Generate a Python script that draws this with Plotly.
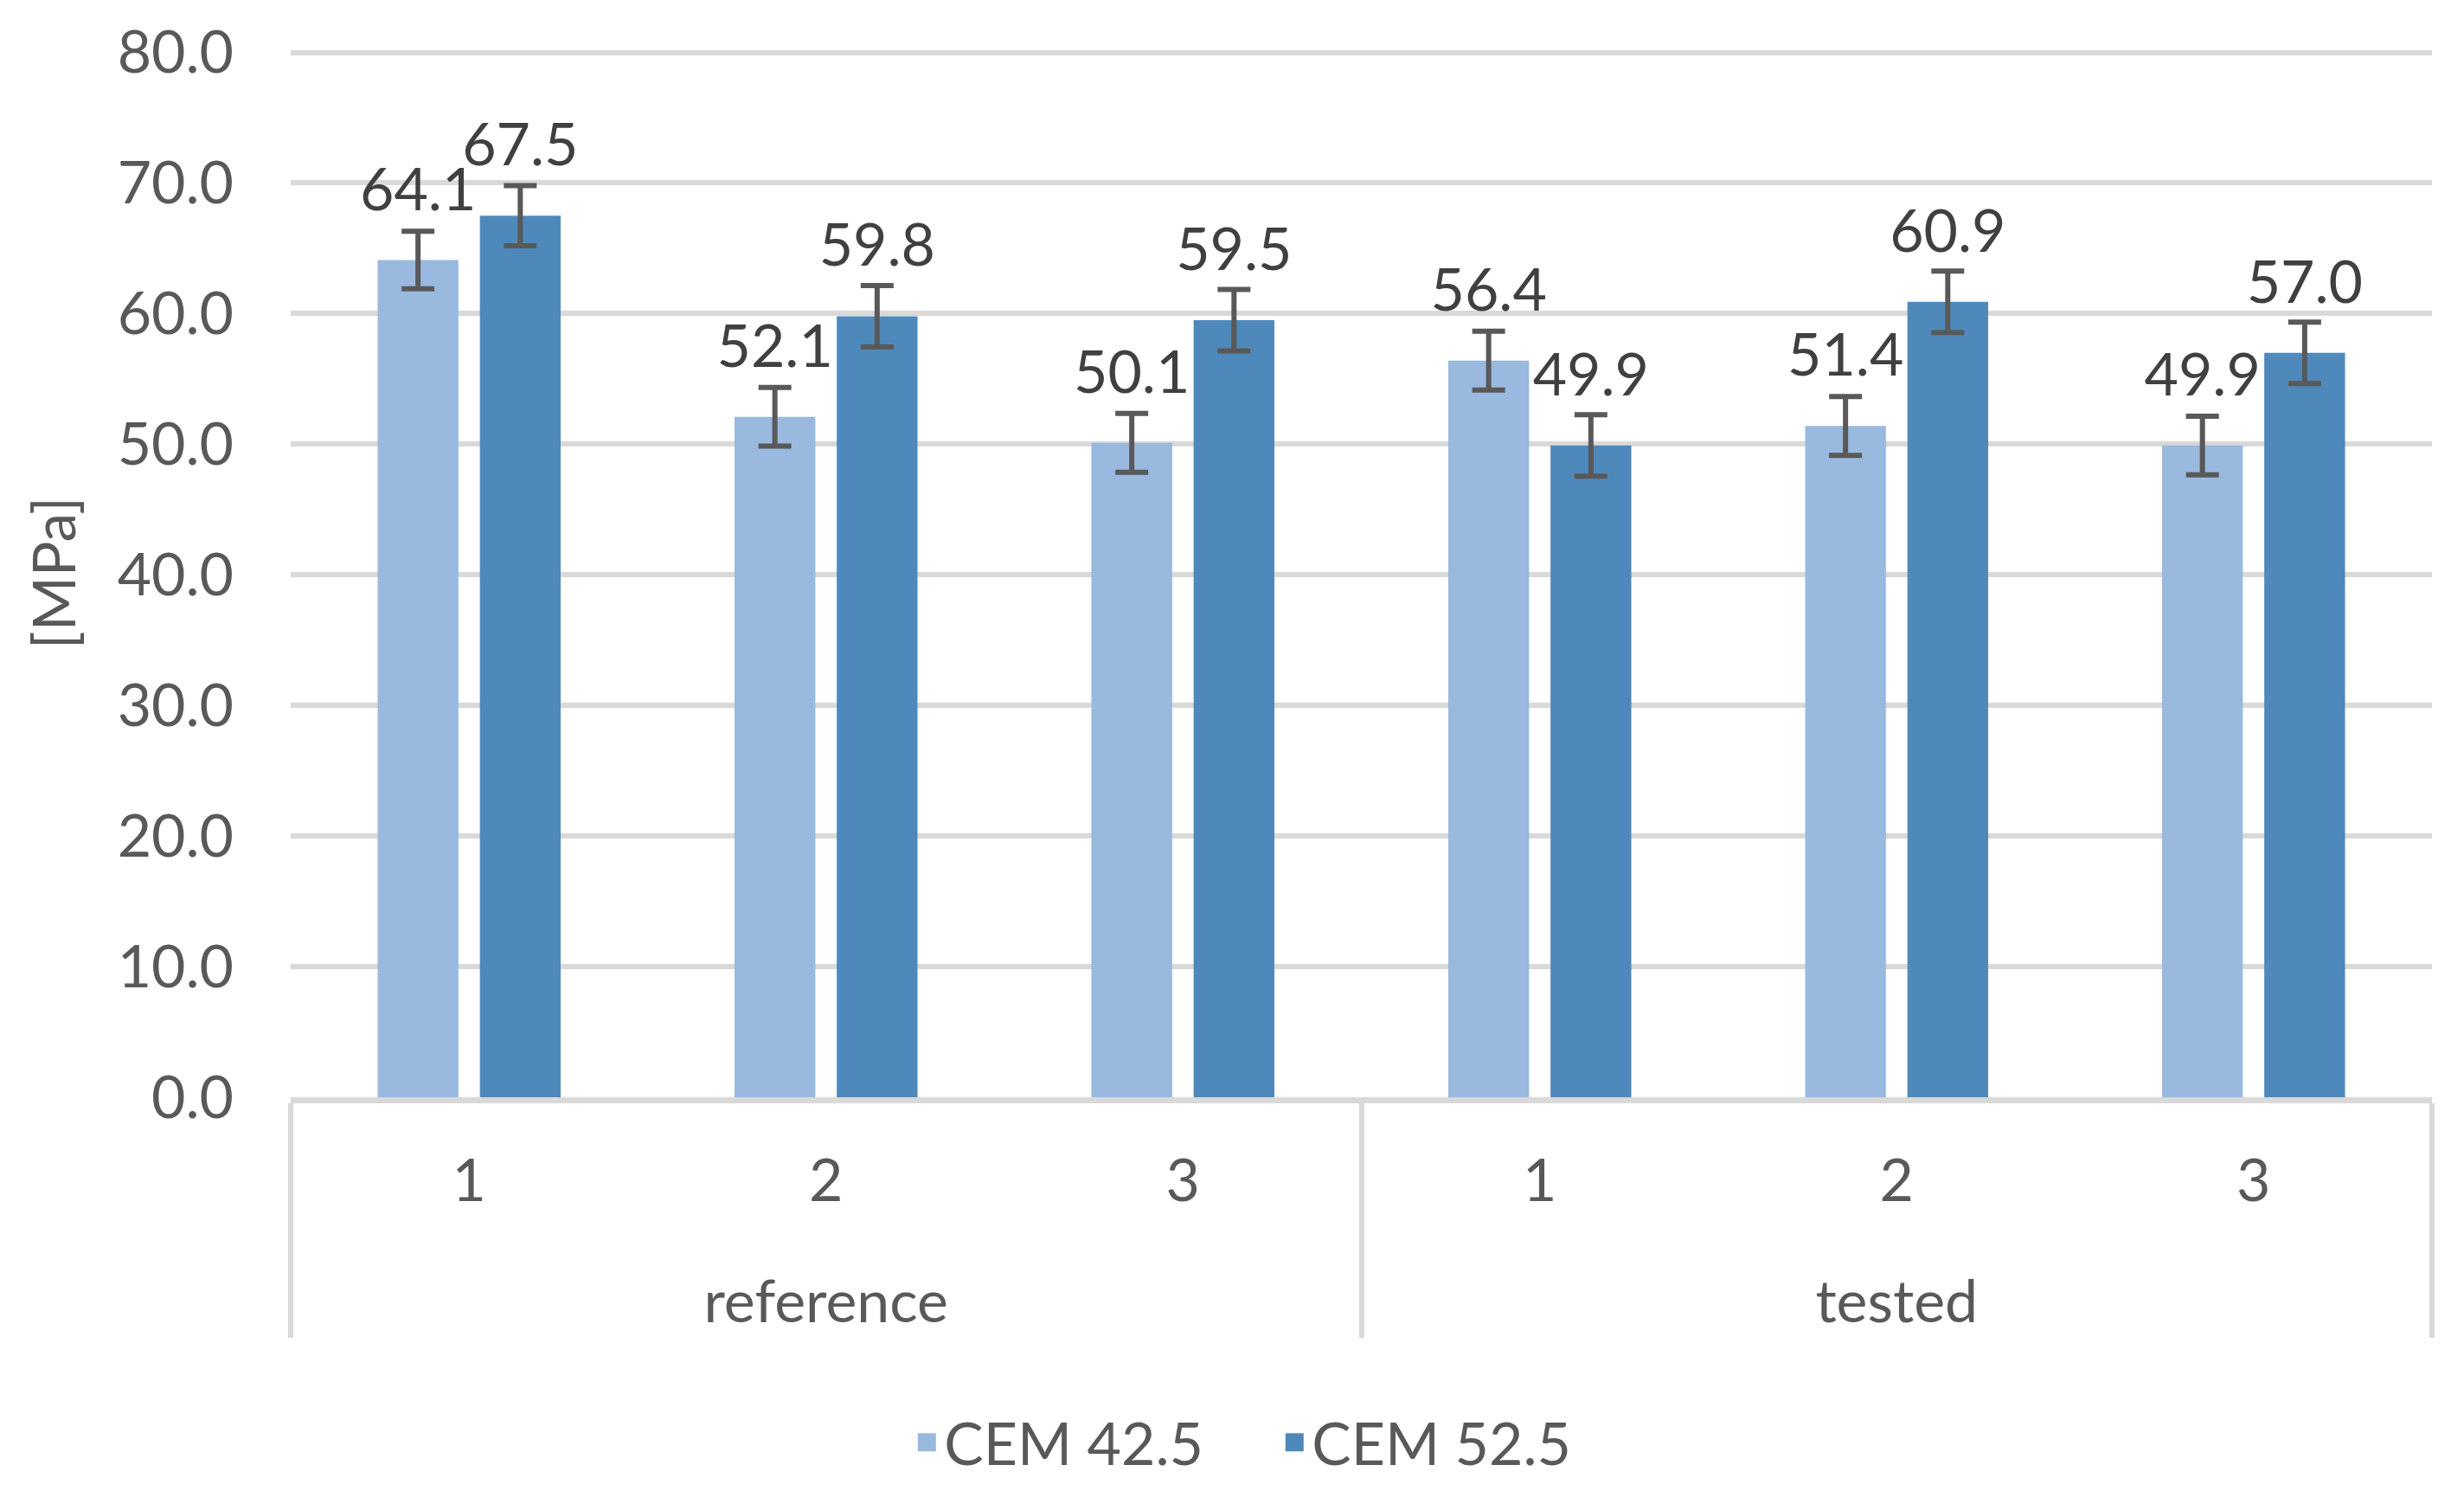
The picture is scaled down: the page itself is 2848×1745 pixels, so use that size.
import plotly.graph_objects as go

# ---- data ----
groups = ["reference", "reference", "reference", "tested", "tested", "tested"]
samples = ["1", "2", "3", "1", "2", "3"]
series_names = ["CEM 42.5", "CEM 52.5"]
cem425 = [64.1, 52.1, 50.1, 56.4, 51.4, 49.9]
cem525 = [67.5, 59.8, 59.5, 49.9, 60.9, 57.0]
err425 = [2.2, 2.25, 2.25, 2.25, 2.25, 2.25]
err525 = [2.3, 2.35, 2.35, 2.35, 2.35, 2.35]
y_ticks = [0, 10, 20, 30, 40, 50, 60, 70, 80]

# ---- style ----
FONT = "Lato, 'Open Sans', sans-serif"
FS = 68
AXIS_TXT = "#595959"
LABEL_TXT = "#404040"
GRID = "#D9D9D9"
colors = ["#99B9DF", "#4F89BB"]

fig = go.Figure()
values = [cem425, cem525]
errors = [err425, err525]
# outer level label gets a leading line break to sit lower, as in the reference
x = [["<br>" + g for g in groups], samples]

for i in range(2):
    fig.add_trace(go.Bar(
        x=x, y=values[i], name=series_names[i],
        marker=dict(color=colors[i], line=dict(width=0)),
        error_y=dict(type="data", array=errors[i], visible=True,
                     color="#595959", thickness=6, width=19),
        offsetgroup=str(i), showlegend=False, hoverinfo="skip",
    ))

for i in range(2):
    fig.add_trace(go.Scatter(
        x=x, y=values[i], mode="markers+text",
        text=[f"{v:.1f}" for v in values[i]],
        textposition="top center",
        textfont=dict(family=FONT, size=FS, color=LABEL_TXT),
        marker=dict(size=64, opacity=0, color=colors[i]),
        offsetgroup=str(i), showlegend=False, hoverinfo="skip",
    ))

# legend entries
for i in range(2):
    fig.add_trace(go.Scatter(
        x=[[x[0][0]], [x[1][0]]], y=[None], mode="markers",
        name=series_names[i],
        marker=dict(symbol="square", size=16, color=colors[i],
                    line=dict(width=5, color=colors[i])),
        offsetgroup=str(i), showlegend=True, hoverinfo="skip",
    ))

W, H = 2840, 1737
fig.update_layout(
    width=W, height=H,
    paper_bgcolor="white", plot_bgcolor="white",
    margin=dict(l=328, r=37, t=47.5, b=477, autoexpand=False),
    barmode="group", bargap=0.427, bargroupgap=0.21,
    scattermode="group", scattergap=0.427,
    font=dict(family=FONT, size=FS, color=AXIS_TXT),
    showlegend=True,
    legend=dict(
        orientation="h", xref="container", yref="container",
        x=0.517, xanchor="center", y=0.0449, yanchor="middle",
        font=dict(family=FONT, size=FS, color=AXIS_TXT),
        itemwidth=30, traceorder="normal",
        entrywidth=380, entrywidthmode="pixels",
    ),
)

fig.update_xaxes(
    showline=True, linecolor=GRID, linewidth=7,
    showdividers=True, dividercolor=GRID, dividerwidth=6,
    ticks="", ticklabelstandoff=31,
    showgrid=False, zeroline=False,
    tickfont=dict(family=FONT, size=FS, color=AXIS_TXT),
    automargin=False,
)
fig.update_yaxes(
    range=[0, 80.3], tickvals=y_ticks, tickformat=".1f",
    showgrid=True, gridcolor=GRID, gridwidth=6,
    zeroline=False, showline=False, ticks="",
    ticklabelstandoff=65,
    tickfont=dict(family=FONT, size=FS, color=AXIS_TXT),
    title=dict(text="[MPa]", font=dict(family=FONT, size=FS, color=AXIS_TXT), standoff=25),
    automargin=False,
)

fig.write_html("out.html")
